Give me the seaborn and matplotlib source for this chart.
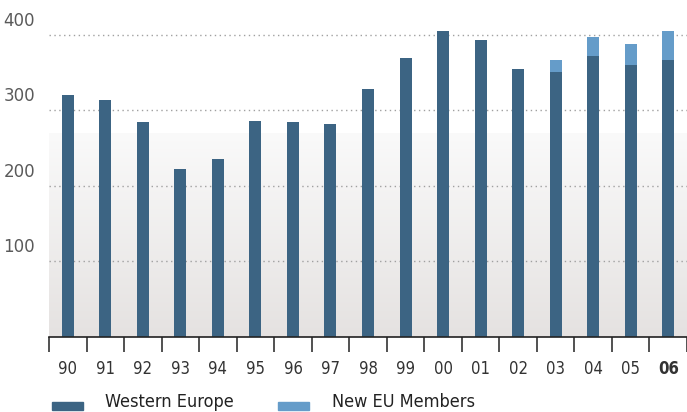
import numpy as np
import pandas as pd
import matplotlib
matplotlib.use("Agg")
import matplotlib.pyplot as plt
import matplotlib.transforms as mtransforms
from matplotlib.patches import Rectangle
from matplotlib import font_manager
import seaborn as sns

# Data
years = ['90', '91', '92', '93', '94', '95', '96', '97', '98', '99',
         '00', '01', '02', '03', '04', '05', '06']
western_europe = [320, 313, 284, 222, 236, 286, 284, 282, 328, 369,
                  405, 393, 354, 350, 372, 360, 367]
new_eu_members = [0, 0, 0, 0, 0, 0, 0, 0, 0, 0,
                  0, 0, 0, 16, 25, 28, 38]
y_ticks = [100, 200, 300, 400]

dark_blue = '#3c6483'
light_blue = '#659cc9'

df = pd.DataFrame({'year': years, 'western': western_europe, 'new_eu': new_eu_members})
df['total'] = df['western'] + df['new_eu']

sns.set_theme(style='white')
names = {f.name for f in font_manager.fontManager.ttflist}
narrow = [n for n in ['Liberation Sans Narrow', 'DejaVu Sans Condensed'] if n in names]
plt.rcParams['font.family'] = narrow + ['DejaVu Sans']
plt.rcParams['font.stretch'] = 'condensed'

W, H = 687, 412
fig = plt.figure(figsize=(W / 100, H / 100), dpi=100)
left_px, base_px = 49, 336.7
cat_px = 37.8
ax = fig.add_axes([left_px / W, (H - base_px) / H, (W - left_px) / W, base_px / H])

ymax = base_px / 0.755

# gradient background in lower part of plot
grad_top = 270
grad = np.linspace(0, 1, 256).reshape(-1, 1)
c_top = np.array([0.98, 0.98, 0.98])
c_bot = np.array([0.898, 0.886, 0.882])
img = c_bot + (c_top - c_bot) * grad
ax.imshow(img[:, None, :].repeat(2, axis=1), extent=(-0.5, 17, 0, grad_top),
          origin='lower', aspect='auto', zorder=0)

# dotted gridlines
for v in y_ticks:
    ax.axhline(v, color='#a0a0a0', lw=1.0, ls=(0, (1, 2.5)), zorder=1)

sns.barplot(data=df, x='year', y='total', color=light_blue, width=0.32,
            saturation=1, linewidth=0, ax=ax, zorder=2, order=years)
sns.barplot(data=df, x='year', y='western', color=dark_blue, width=0.32,
            saturation=1, linewidth=0, ax=ax, zorder=3, order=years)
ax.set_xlim(-0.5, -0.5 + (W - left_px) / cat_px)
ax.set_ylim(0, ymax)

for s in ['top', 'right', 'left']:
    ax.spines[s].set_visible(False)
ax.spines['bottom'].set_color('#222222')
ax.spines['bottom'].set_linewidth(1.2)
ax.spines['bottom'].set_zorder(4)

ax.set_xlabel('')
ax.set_ylabel('')

# x ticks: labels at centres, tick marks at boundaries
ax.set_xticks(range(len(years)))
ax.set_xticklabels(years, fontsize=12, color='#333333')
ax.set_xticks(np.arange(-0.5, len(years), 1.0), minor=True)
ax.tick_params(axis='x', which='major', length=0, pad=17)
ax.tick_params(axis='x', which='minor', length=11, width=1.2, color='#333333',
               direction='out', bottom=True)
ax.get_xticklabels()[-1].set_fontweight('bold')

# y labels sit above their gridlines
ax.set_yticks(y_ticks)
ax.set_yticklabels([str(v) for v in y_ticks], fontsize=12, color='#5a5a5a',
                   family='DejaVu Sans', stretch='normal')
ax.tick_params(axis='y', length=0, pad=10)
offset = mtransforms.ScaledTranslation(0, 16 / 100, fig.dpi_scale_trans)
for lab in ax.get_yticklabels():
    lab.set_transform(lab.get_transform() + offset)

# legend along the bottom
fig.patches.append(Rectangle((52 / W, (H - 410) / H), 31 / W, 8 / H,
                             transform=fig.transFigure, color=dark_blue))
fig.text(105 / W, (H - 411) / H, 'Western Europe', fontsize=13, color='#222222',
         va='bottom', ha='left')
fig.patches.append(Rectangle((278 / W, (H - 410) / H), 31 / W, 8 / H,
                             transform=fig.transFigure, color=light_blue))
fig.text(332 / W, (H - 411) / H, 'New EU Members', fontsize=13, color='#222222',
         va='bottom', ha='left')

fig.savefig('out.png', dpi=100)
